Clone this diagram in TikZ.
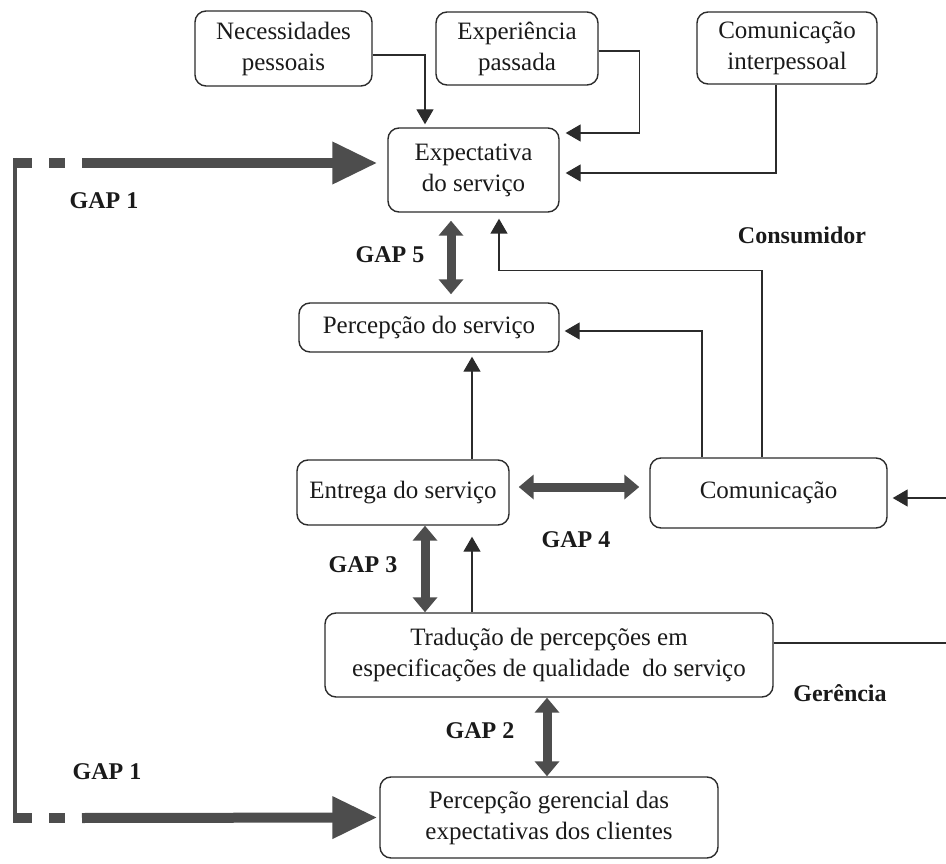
\documentclass[tikz,border=0pt]{standalone}
\usepackage{fontspec}
\setmainfont{Liberation Serif}
\usetikzlibrary{arrows.meta}
\definecolor{gapgray}{HTML}{4D4D4D}
\definecolor{linegray}{HTML}{2B2B2B}
\definecolor{inkgray}{HTML}{1A1A1A}
\begin{document}
\begin{tikzpicture}[x=1pt,y=-1pt,
  box/.style={draw=linegray, line width=1.4pt, rounded corners=11pt, align=center,
    inner sep=0pt, font=\fontsize{25}{31}\selectfont, text=inkgray},
  conn/.style={draw=linegray, line width=1.4pt, -{Triangle[width=17pt,length=15pt]}},
  plain/.style={draw=linegray, line width=1.4pt},
  gap/.style={draw=gapgray, line width=9pt,
    {Triangle[width=24pt,length=15pt]}-{Triangle[width=24pt,length=15pt]}},
  gapone/.style={draw=gapgray, line width=10pt, -{Triangle[width=40pt,length=45pt]}},
  lbl/.style={font=\bfseries\fontsize{24}{28}\selectfont, text=inkgray}
]
\useasboundingbox (0,0) rectangle (946,864);

% boxes
\node[box, minimum width=177pt, minimum height=75pt] (nec) at (283.5,48.5) {Necessidades\\pessoais};
\node[box, minimum width=162pt, minimum height=73pt] (exp) at (517,48.5) {Experiência\\passada};
\node[box, minimum width=180pt, minimum height=72pt] (int) at (787,48) {Comunicação\\interpessoal};
\node[box, minimum width=171pt, minimum height=84pt] (expec) at (473.5,170) {Expectativa\\do serviço};
\node[box, minimum width=260pt, minimum height=49pt] (perc) at (429,327.5) {Percepção do serviço};
\node[box, minimum width=212pt, minimum height=65pt] (entr) at (403,492.5) {Entrega do serviço};
\node[box, minimum width=237pt, minimum height=70pt] (com) at (768.5,493) {Comunicação};
\node[box, minimum width=448pt, minimum height=84pt] (trad) at (549,655) {Tradução de percepções em\\especificações de qualidade\ \ do serviço};
\node[box, minimum width=338pt, minimum height=81pt] (ger) at (549,817.5) {Percepção gerencial das\\expectativas dos clientes};

% labels
\node[lbl] (consum) at (802,235) {Consumidor};
\node[lbl] (geren) at (840,693) {Gerência};
\node[lbl] (g1a) at (104,201) {GAP 1};
\node[lbl] (g1b) at (107,772) {GAP 1};
\node[lbl] (g5) at (390,255) {GAP 5};
\node[lbl] (g4) at (576,540) {GAP 4};
\node[lbl] (g3) at (363,565) {GAP 3};
\node[lbl] (g2) at (480,731) {GAP 2};

% inputs to the expectation box
\draw[conn, shorten >=3pt] ([yshift=-6.5pt]nec.east) -| ([xshift=-48.5pt]expec.north);
\draw[conn, shorten >=6pt] ([yshift=-2.5pt]exp.east) -- ++(41,0) |- ([yshift=37pt]expec.east);
\draw[conn, shorten >=6pt] ([xshift=-11pt]int.south) |- ([yshift=-3pt]expec.east);

% feedback from communication
\draw[conn, shorten >=6pt] ([xshift=-6.5pt]com.north) -- ++(0,-187) -| ([xshift=25.5pt]expec.south);
\draw[conn, shorten >=5pt] ([xshift=-66.5pt]com.north) |- ([yshift=-3.5pt]perc.east);

% delivery chain
\draw[conn, shorten >=4pt] ([xshift=69pt]entr.north) -- ([xshift=69pt]entr.north |- perc.south);
\draw[conn, shorten >=11pt] ([xshift=-77pt]trad.north) -- ([xshift=-77pt]trad.north |- entr.south);

% management side
\coordinate (rin) at (946,498);
\coordinate (rout) at (946,643);
\draw[conn, shorten >=5pt] (rin) -- (rin -| com.east);
\draw[plain] ([yshift=12pt]trad.east) -- (rout);

% gaps
\draw[gap, shorten <=8pt, shorten >=8pt] ([xshift=-22.5pt]expec.south) -- ([xshift=22pt]perc.north);
\draw[gap, shorten <=9pt, shorten >=10pt] ([yshift=5.5pt]entr.east) -- ([yshift=5.5pt]entr.east -| com.west);
\draw[gap] ([xshift=22pt]entr.south) -- ([xshift=22pt]entr.south |- trad.north);
\draw[gap] ([xshift=-2pt]trad.south) -- ([xshift=-2pt]trad.south |- ger.north);

% GAP 1 loop on the left
\draw[draw=gapgray, line width=4pt] (15,158) -- (15,823);
\draw[draw=gapgray, line width=10pt] (13,163) -- (32,163) (49,163) -- (65,163);
\draw[draw=gapgray, line width=10pt] (13,818) -- (32,818) (49,818) -- (65,818);
\draw[gapone, shorten >=10pt] (82,163) -- ([yshift=7pt]expec.west);
\draw[gapone, shorten >=2pt] (82,818) -- (ger.west);
\end{tikzpicture}
\end{document}
